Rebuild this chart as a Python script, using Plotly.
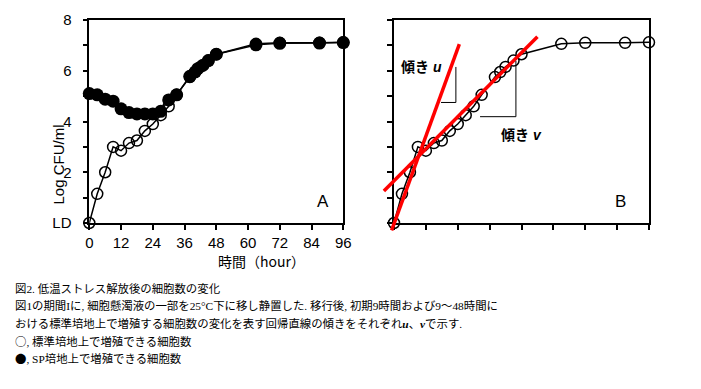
import plotly.graph_objects as go

W, H = 701, 389

# ---- data ----
t_open = [0, 3, 6, 9, 12, 15, 18, 21, 24, 27, 30, 33, 38, 40, 42, 45, 48, 63, 72, 87, 96]
v_open = [0, 1.15, 2.0, 3.0, 2.85, 3.15, 3.25, 3.63, 3.9, 4.25, 4.6, 5.05, 5.75, 5.95, 6.15, 6.4, 6.65, 7.06, 7.1, 7.1, 7.12]
t_fill = [0, 3, 6, 9, 12, 15, 18, 21, 24, 27, 30, 33, 38, 40, 41, 43, 45, 48, 63, 72, 87, 96]
v_fill = [5.1, 5.05, 4.88, 4.8, 4.5, 4.35, 4.3, 4.3, 4.3, 4.4, 4.85, 5.05, 5.78, 5.95, 6.08, 6.22, 6.4, 6.65, 7.02, 7.08, 7.09, 7.11]
u_t = [-0.9, 24.6]
u_v = [-0.29, 7.05]
v_t = [-3.8, 54.0]
v_v = [1.26, 7.34]
x_ticks = [0, 12, 24, 36, 48, 60, 72, 84, 96]
y_ticks = [0, 1, 2, 3, 4, 5, 6, 7, 8]
y_labels = ["LD", "", "2", "", "4", "", "6", "", "8"]
JPS = '<span style="font-family:Noto Sans CJK JP">'
caption = [
    "図2. 低温ストレス解放後の細胞数の変化",
    "図1の期間Iに, 細胞懸濁液の一部を25°C下に移し静置した. 移行後, 初期9時間および9～48時間に",
    "おける標準培地上で増殖する細胞数の変化を表す回帰直線の傾きをそれぞれ<b><i>u</i></b>、<b><i>v</i></b>で示す.",
    JPS + "○</span>, 標準培地上で増殖できる細胞数",
    JPS + "●</span>, SP培地上で増殖できる細胞数",
]

OFF = 8.0  # page body margin offset

def PX(px):
    return min(1.0, max(0.0, (px - OFF) / W))

def PY(py):
    return min(1.0, max(0.0, 1 - (py - OFF) / H))

AX0, AX1 = 89.3, 343.3
BX0, BX1 = 394.0, 649.0
Y0, Y1 = 223.0, 20.0
FONT = "Arial, Liberation Sans, sans-serif"

fig = go.Figure()

line_style = dict(color="black", width=1.5)
# Panel A
fig.add_trace(go.Scatter(x=t_open, y=v_open, mode="lines+markers", line=line_style,
                         marker=dict(symbol="circle-open", size=11, color="black", line=dict(width=1.5)),
                         cliponaxis=False, xaxis="x", yaxis="y", showlegend=False))
fig.add_trace(go.Scatter(x=t_fill, y=v_fill, mode="lines+markers", line=line_style,
                         marker=dict(symbol="circle", size=13, color="black"),
                         cliponaxis=False, xaxis="x", yaxis="y", showlegend=False))
# Panel B
fig.add_trace(go.Scatter(x=t_open, y=v_open, mode="lines+markers", line=line_style,
                         marker=dict(symbol="circle-open", size=11, color="black", line=dict(width=1.5)),
                         cliponaxis=False, xaxis="x2", yaxis="y2", showlegend=False))

# extra invisible axes (same scale as panel B, larger domain so red lines are not clipped)
padx, pad_bot, pad_top = 14.0, 14.0, 10.0
sx = (BX1 - BX0) / 96.0
sy = (Y0 - Y1) / 8.0
fig.add_trace(go.Scatter(x=u_t, y=u_v, mode="lines", line=dict(color="#ff0000", width=3.5),
                         xaxis="x3", yaxis="y3", showlegend=False))
fig.add_trace(go.Scatter(x=v_t, y=v_v, mode="lines", line=dict(color="#ff0000", width=3.5),
                         xaxis="x3", yaxis="y3", showlegend=False))

common_x = dict(range=[0, 96], tickvals=x_ticks, ticks="outside", ticklen=5, tickwidth=1.5,
                tickcolor="black", showline=True, linecolor="black", linewidth=1.5, mirror=True,
                showgrid=False, zeroline=False, automargin=False,
                tickfont=dict(family=FONT, size=15, color="black"))
common_y = dict(range=[0, 8], tickvals=y_ticks, ticks="outside", ticklen=5, tickwidth=1.5,
                tickcolor="black", showline=True, linecolor="black", linewidth=1.5, mirror=True,
                showgrid=False, zeroline=False, automargin=False,
                tickfont=dict(family=FONT, size=15, color="black"))

fig.update_layout(
    width=W, height=H, margin=dict(l=0, r=0, t=0, b=0, autoexpand=False),
    paper_bgcolor="white", plot_bgcolor="rgba(0,0,0,0)",
    xaxis=dict(domain=[PX(AX0), PX(AX1)], anchor="y", **common_x),
    yaxis=dict(domain=[PY(Y0), PY(Y1)], anchor="x", ticktext=y_labels, ticklabelstandoff=8, **common_y),
    xaxis2=dict(domain=[PX(BX0), PX(BX1)], anchor="y2", showticklabels=False, **common_x),
    yaxis2=dict(domain=[PY(Y0), PY(Y1)], anchor="x2", showticklabels=False, **common_y),
    xaxis3=dict(domain=[PX(BX0 - padx), PX(BX1 + padx)], anchor="y3",
                range=[-padx / sx, 96 + padx / sx], visible=False, automargin=False,
                showgrid=False, zeroline=False),
    yaxis3=dict(domain=[PY(Y0 + pad_bot), PY(Y1 - pad_top)], anchor="x3",
                range=[-pad_bot / sy, 8 + pad_top / sy], visible=False, automargin=False,
                showgrid=False, zeroline=False),
)

# brackets for slopes
bk = dict(color="black", width=1)
fig.add_shape(type="line", xref="x2", yref="y2", x0=23.3, x1=23.3, y0=6.15, y1=4.75, line=bk)
fig.add_shape(type="line", xref="x2", yref="y2", x0=17.7, x1=23.3, y0=4.75, y1=4.75, line=bk)
fig.add_shape(type="line", xref="x2", yref="y2", x0=45.9, x1=45.9, y0=6.39, y1=4.19, line=bk)
fig.add_shape(type="line", xref="x2", yref="y2", x0=32.4, x1=45.9, y0=4.19, y1=4.19, line=bk)

ann = []
jp = "Arial, Noto Sans CJK JP, sans-serif"
ann.append(dict(x=10.4, y=6.16, xref="x2", yref="y2", text="<b>傾き <i>u</i></b>", showarrow=False,
                font=dict(family=jp, size=14, color="black")))
ann.append(dict(x=48.1, y=3.47, xref="x2", yref="y2", text="<b>傾き <i>v</i></b>", showarrow=False,
                font=dict(family=jp, size=14, color="black")))
ann.append(dict(x=PX(323), y=PY(201), xref="paper", yref="paper", text="A", showarrow=False,
                font=dict(family=FONT, size=17, color="black")))
ann.append(dict(x=PX(628), y=PY(201), xref="paper", yref="paper", text="B", showarrow=False,
                font=dict(family=FONT, size=17, color="black")))
ann.append(dict(x=PX(48), y=PY(123), xref="paper", yref="paper", text="Log CFU/ml", textangle=-90,
                showarrow=False, font=dict(family=FONT, size=15, color="black")))
ann.append(dict(x=PX(216), y=PY(261), xref="paper", yref="paper", text="時間（hour）",
                showarrow=False, font=dict(family="Noto Sans CJK JP, Arial, sans-serif", size=14, color="black")))
cap_y = [288, 305.5, 323, 341, 358]
for txt, yy in zip(caption, cap_y):
    ann.append(dict(x=PX(13), y=PY(yy), xref="paper", yref="paper", xanchor="left", yanchor="middle",
                    text=txt, showarrow=False,
                    font=dict(family="Liberation Serif, Noto Sans CJK JP, serif", size=11.4, color="black")))
fig.update_layout(annotations=ann)

fig.write_html("out.html")
